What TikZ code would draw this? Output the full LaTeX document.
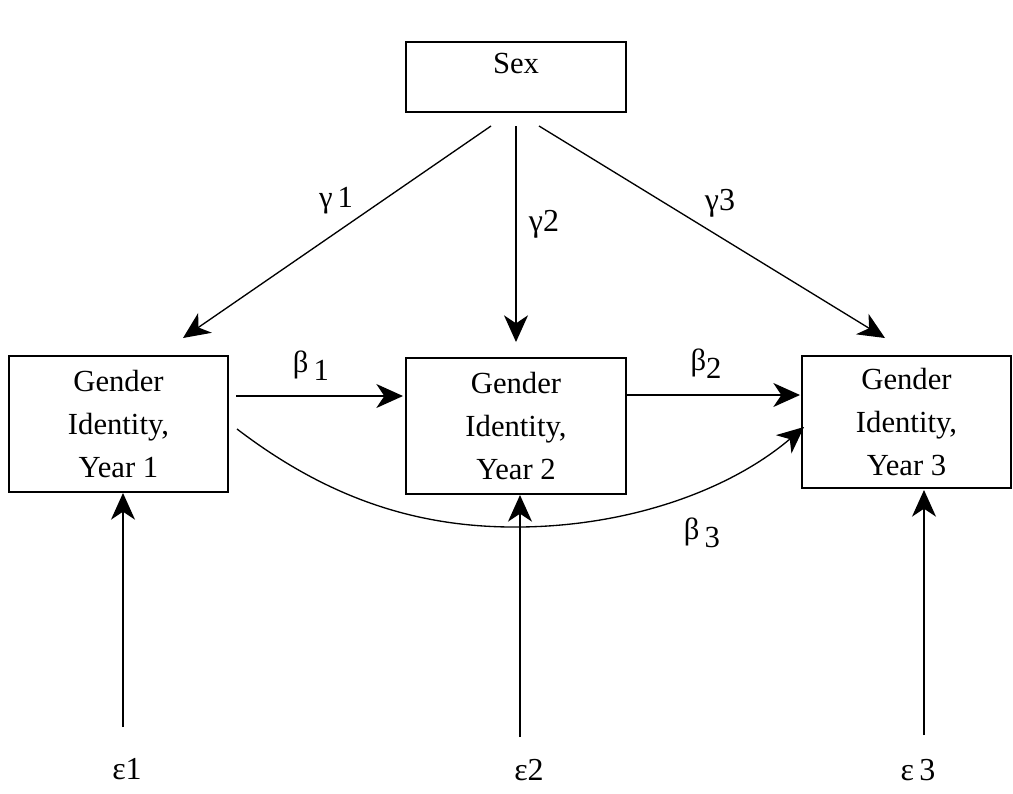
\documentclass[tikz,border=0pt]{standalone}
\usepackage{fontspec}
\setmainfont{Liberation Serif}
\usetikzlibrary{arrows.meta,calc}
\begin{document}
\begin{tikzpicture}[x=0.75pt,y=-0.75pt,
  box/.style={draw, line width=1.1pt, rectangle, inner sep=0pt, align=center,
    font=\fontsize{23}{32}\selectfont},
  arr/.style={line width=1pt, -{Stealth[length=20pt,width=18pt,inset=6pt]}},
  lab/.style={inner sep=0pt, font=\fontsize{23}{26}\selectfont},
  biglab/.style={inner sep=0pt, font=\fontsize{24}{28}\selectfont},
]
\useasboundingbox (0,0) rectangle (1013,793);

% boxes
\node[box, minimum width=165pt, minimum height=52.5pt, text height=23.5pt, text depth=29pt] (sex) at (516,77) {Sex};
\node[box, minimum width=164.25pt, minimum height=102pt] (g1) at (118.5,424) {Gender\\Identity,\\Year 1};
\node[box, minimum width=165pt, minimum height=102pt] (g2) at (516,426) {Gender\\Identity,\\Year 2};
\node[box, minimum width=156.75pt, minimum height=99pt] (g3) at (906.5,422) {Gender\\Identity,\\Year 3};

% connector end points
\coordinate (s1) at (491,126); \coordinate (e1) at (183,338);
\coordinate (s2) at (516,126); \coordinate (e2) at (516,342);
\coordinate (s3) at (539,126); \coordinate (e3) at (885,338);
\coordinate (b1s) at (236,396); \coordinate (b1e) at (403,396);
\coordinate (b2s) at (627,395); \coordinate (b2e) at (800,395);
\coordinate (b3s) at (237,429); \coordinate (b3e) at (804,427);
\coordinate (x1s) at (123,727); \coordinate (x1e) at (123,493);
\coordinate (x2s) at (520,737); \coordinate (x2e) at (520,495);
\coordinate (x3s) at (924,735); \coordinate (x3e) at (924,490);

% gamma paths
\draw[arr] (s1) -- (e1);
\draw[arr] (s2) -- (e2);
\draw[arr] (s3) -- (e3);
% beta paths
\draw[arr] (b1s) -- (b1e);
\draw[arr] (b2s) -- (b2e);
\draw[arr] (b3s) .. controls (330,500) and (420,528) .. (520,527)
                 .. controls (630,526) and (730,490) .. (b3e);
% errors
\draw[arr] (x1s) -- (x1e);
\draw[arr] (x2s) -- (x2e);
\draw[arr] (x3s) -- (x3e);

% labels
\node[lab] (lg1) at (336,201) {γ\,1};
\node[biglab] (lg2) at (544,224) {γ2};
\node[biglab] (lg3) at (720,203) {γ3};
\node[lab] (lb1) at (311,366) {β\,\raisebox{-6pt}{1}};
\node[lab] (lb2) at (706,364) {β\raisebox{-6pt}{2}};
\node[lab] (lb3) at (702,533) {β\,\raisebox{-6pt}{3}};
\node[biglab] (le1) at (127,769) {ε1};
\node[biglab] (le2) at (529,770) {ε2};
\node[biglab] (le3) at (918,770) {ε\,3};
\end{tikzpicture}
\end{document}
